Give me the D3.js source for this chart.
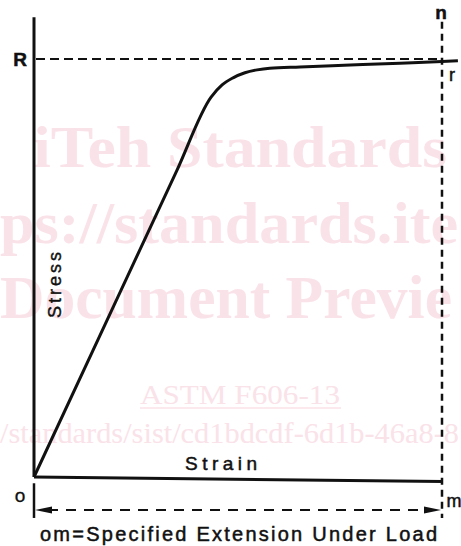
<!DOCTYPE html>
<html><head><meta charset="utf-8">
<script src="https://cdn.jsdelivr.net/npm/d3@7"></script>
<style>body{margin:0;background:#fff}svg{display:block}</style>
</head><body><svg id="c" width="461" height="546"></svg>
<script>
// Data (strain %, stress % of R)
const strain = [0, 20, 35, 43.4, 46.1, 48.8, 51.7, 54.7, 57.8, 65.2, 77.5, 89.7, 100, 103.9];
const stress = [0, 41.9, 73.3, 90.9, 93.8, 95.5, 96.7, 97.4, 97.8, 98.1, 98.55, 99.0, 99.4, 99.6];
const R = 100, M = 100;
const axisLabels = ["Strain", "Stress"];
const pointLabels = ["R", "o", "n", "r", "m"];
const caption = "om=Specified Extension Under Load";
const watermark = ["iTeh Standards", "ps://standards.ite", "Document Previe", "ASTM F606-13", "/standards/sist/cd1bdcdf-6d1b-46a8-8"];

const svg = d3.select("#c");
const x = d3.scaleLinear().domain([0, 100]).range([34, 442]);
const y = d3.scaleLinear().domain([0, 100]).range([477, 59]);
const wm = "#fae2e9";

// watermark
const serif = "'Liberation Serif','DejaVu Serif',serif";
function wmText(t, x0, y0, size, len, bold) {
  svg.append("text").attr("x", x0).attr("y", y0).attr("font-family", serif)
    .attr("font-weight", bold ? "bold" : "normal").attr("font-size", size)
    .attr("fill", wm).attr("textLength", len).attr("lengthAdjust", "spacingAndGlyphs").text(t);
}
wmText(watermark[0], 33, 167, 60, 414, true);
wmText(watermark[1], 0, 243, 60, 458, true);
wmText(watermark[2], 0, 318, 62, 452, true);
wmText(watermark[3], 140, 404, 27, 200, false);
svg.append("line").attr("x1", 140).attr("x2", 341).attr("y1", 408).attr("y2", 408).attr("stroke", wm).attr("stroke-width", 1.5);
wmText(watermark[4], 0, 443, 30, 459, false);

const sans = "'Liberation Sans','DejaVu Sans',sans-serif";
const ink = "#111";

// Axes
svg.append("line").attr("x1", x(0)).attr("x2", x(0)).attr("y1", y(110)).attr("y2", y(0)).attr("stroke", ink).attr("stroke-width", 3);
svg.append("line").attr("x1", x(0)).attr("x2", x(M) + 1).attr("y1", y(0)).attr("y2", y(-1.1)).attr("stroke", ink).attr("stroke-width", 3);

// R dashed line
svg.append("line").attr("x1", x(0) + 2).attr("x2", x(M)).attr("y1", y(R)).attr("y2", y(R)).attr("stroke", ink).attr("stroke-width", 2).attr("stroke-dasharray", "9,5");

// vertical dashed line at m
svg.append("line").attr("x1", x(M)).attr("x2", x(M)).attr("y1", y(108.9)).attr("y2", y(-9.8)).attr("stroke", ink).attr("stroke-width", 2.5).attr("stroke-dasharray", "7,5");

// stress-strain curve
const line = d3.line().x((d, i) => x(strain[i])).y((d, i) => y(stress[i])).curve(d3.curveMonotoneX);
svg.append("path").datum(strain).attr("d", line).attr("fill", "none").attr("stroke", ink).attr("stroke-width", 3).attr("stroke-linejoin", "round");

// tick below origin
svg.append("line").attr("x1", x(0)).attr("x2", x(0)).attr("y1", y(-1.5)).attr("y2", y(-9.8)).attr("stroke", ink).attr("stroke-width", 2.5);

// dimension arrow
const ay = y(-7.9);
svg.append("line").attr("x1", x(0) + 14).attr("x2", x(M) - 14).attr("y1", ay).attr("y2", ay).attr("stroke", ink).attr("stroke-width", 2).attr("stroke-dasharray", "10,8");
svg.append("path").attr("d", `M${x(0)+1},${ay} L${x(0)+18},${ay-3.5} L${x(0)+18},${ay+3.5} Z`).attr("fill", ink);
svg.append("path").attr("d", `M${x(M)-1},${ay} L${x(M)-18},${ay-3.5} L${x(M)-18},${ay+3.5} Z`).attr("fill", ink);

// labels
function lbl(t, x0, y0, size) {
  return svg.append("text").attr("x", x0).attr("y", y0).attr("font-family", sans)
    .attr("font-size", size).attr("fill", ink).attr("stroke", ink).attr("stroke-width", 0.5).text(t);
}
lbl(pointLabels[0], 20, y(R) + 7, 19).attr("text-anchor", "middle").attr("font-weight", "bold");
lbl(pointLabels[1], 20, 502, 19).attr("text-anchor", "middle").attr("stroke-width", 0.3);
lbl(pointLabels[2], 441, 19, 19).attr("text-anchor", "middle").attr("font-weight", "bold");
lbl(pointLabels[3], 452, 81, 18).attr("text-anchor", "middle");
lbl(pointLabels[4], 454, 507, 18).attr("text-anchor", "middle");

lbl(axisLabels[0], 185, 470, 19).attr("textLength", 72);
svg.append("text").attr("transform", "translate(61,318) rotate(-90)").attr("font-family", sans).attr("font-size", 18).attr("fill", ink).attr("stroke", ink).attr("stroke-width", 0.4).attr("textLength", 66).text(axisLabels[1]);

lbl(caption, 40, 541, 20).attr("textLength", 397).attr("lengthAdjust", "spacing");
</script></body></html>
